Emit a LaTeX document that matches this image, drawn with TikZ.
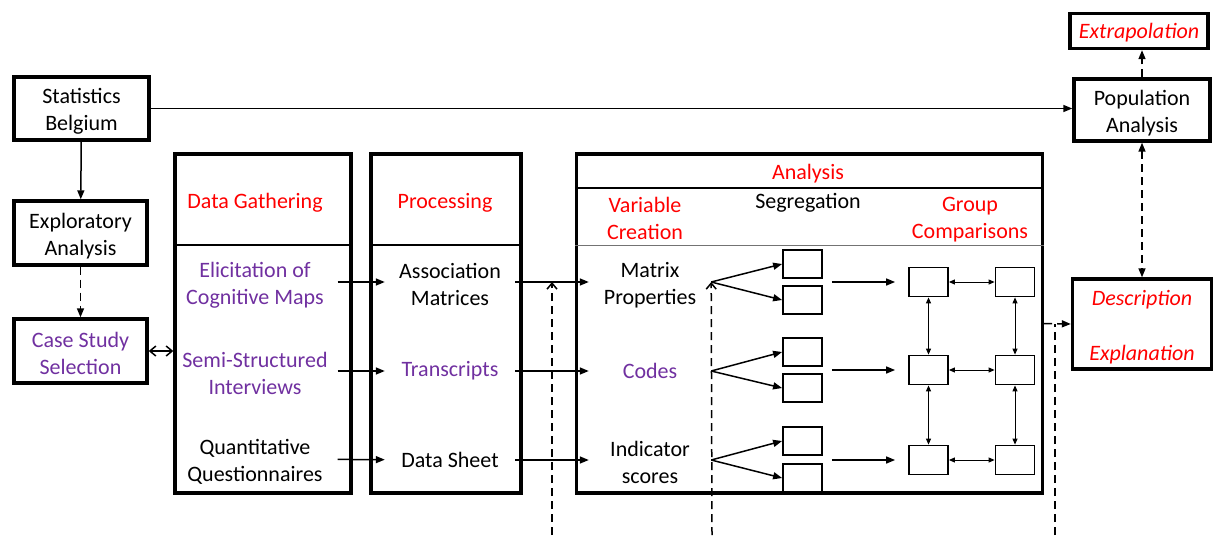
\documentclass[tikz,border=0pt]{standalone}
\usepackage{fontspec}
\setmainfont{Carlito}
\usetikzlibrary{arrows.meta,positioning}
\definecolor{ppurple}{RGB}{112,48,160}
\newcommand{\topgap}{\rule{0pt}{21pt}}

\begin{document}
\begin{tikzpicture}[x=1pt,y=-1pt,
  font=\fontsize{22}{27}\selectfont,
  box/.style={draw,line width=3.4pt,align=center,inner sep=0pt},
  item/.style={align=center,inner sep=0pt,minimum width=#1},
  small/.style={draw,line width=1.8pt,minimum width=39pt,minimum height=28pt,inner sep=0pt},
  arr/.style={-{Triangle[length=9pt,width=7pt]},line width=1.5pt},
  darr/.style={{Triangle[length=6pt,width=5pt]}-{Triangle[length=6pt,width=5pt]},line width=1pt},
  dashline/.style={dash pattern=on 8pt off 5pt},
  barb/.style={-{Straight Barb[length=6pt,width=10pt]},line width=1.5pt}
]
\useasboundingbox (0,0) rectangle (1214,535);

% left column
\node[box,minimum width=135pt,minimum height=63pt] (stat) at (81.5,108.5) {\topgap Statistics\\Belgium};
\node[box,minimum width=133pt,minimum height=64pt] (expl) at (80.5,233) {\topgap Exploratory\\Analysis};
\node[box,minimum width=133pt,minimum height=64pt,text=ppurple] (case) at (80.5,351) {\topgap Case Study\\Selection};

% main stages
\node[box,minimum width=176pt,minimum height=339pt] (gath) at (263,323.5) {};
\node[box,minimum width=150pt,minimum height=339pt] (proc) at (446,323.5) {};
\node[box,minimum width=466pt,minimum height=339pt] (anal) at (809.5,323.5) {};
\coordinate (hl) at (0,188);
\coordinate (dl) at (0,245);
\draw[line width=1.2pt] (gath.west |- dl) -- (gath.east |- dl);
\draw[line width=1.2pt] (proc.west |- dl) -- (proc.east |- dl);
\draw[line width=1.2pt] (anal.west |- hl) -- (anal.east |- hl);
\draw[line width=1pt,black!55] (anal.west |- dl) -- (anal.east |- dl);

% right column
\node[box,minimum width=136pt,minimum height=62pt] (pop) at (1142,110) {\topgap Population\\Analysis};
\node[box,minimum width=138pt,minimum height=35pt,text=red] (extra) at (1139,31) {\rule{0pt}{19pt}\textit{Extrapolation}};
\node[box,minimum width=139pt,minimum height=90pt,text=red] (desc) at (1142,324) {\topgap\textit{Description}\\[28pt]\textit{Explanation}};

% headers
\node[text=red] (gathh) at (255,203) {Data Gathering};
\node[text=red] (proch) at (445,203) {Processing};
\node[text=red] (analh) at (808,174) {Analysis};
\node[item=0pt,text=red] (varh) at (645,216) {\topgap Variable\\Creation};
\node (segh) at (808,203) {Segregation};
\node[item=0pt,text=red] (grph) at (970,216) {\topgap Group\\Comparisons};

% items
\node[item=165pt,text=ppurple] (elic) at (255,282) {\topgap Elicitation of\\Cognitive Maps};
\node[item=165pt,text=ppurple] (semi) at (255,371) {\topgap Semi-Structured\\Interviews};
\node[item=165pt] (quant) at (255,459) {\topgap Quantitative\\Questionnaires};
\node[item=130pt] (assoc) at (450,282) {\topgap Association\\Matrices};
\node[item=130pt,text=ppurple] (trans) at (450,371) {Transcripts};
\node[item=130pt] (sheet) at (450,460) {Data Sheet};
\node[item=122pt] (matrix) at (650,282) {\topgap Matrix\\Properties};
\node[item=122pt,text=ppurple] (codes) at (650,371) {Codes};
\node[item=122pt] (indic) at (650,460) {\topgap Indicator\\scores};

\draw[arr] (elic) -- (assoc);
\draw[arr] (semi) -- (trans);
\draw[arr] (quant) -- (sheet);
\draw[arr] (assoc) -- (matrix);
\draw[arr] (trans) -- (codes);
\draw[arr] (sheet) -- (indic);

% segregation and group comparisons
\foreach \r/\y/\ya/\yb/\v in {1/282/264/300/matrix,2/370/352/388/codes,3/460/441/478/indic} {
  \node[small] (s\r a) at (802.5,\ya) {};
  \node[small] (s\r b) at (802.5,\yb) {};
  \node[small,minimum height=29pt] (g\r a) at (928.5,\y) {};
  \node[small,minimum height=29pt] (g\r b) at (1015,\y) {};
  \draw[arr] (\v.east) -- (s\r a.west);
  \draw[arr] (\v.east) -- (s\r b.west);
  \draw[arr,shorten <=9pt,shorten >=13pt] (s\r a.east |- g\r a) -- (g\r a);
  \draw[darr] (g\r a) -- (g\r b);
}
\draw[darr] (g1a) -- (g2a);
\draw[darr] (g2a) -- (g3a);
\draw[darr] (g1b) -- (g2b);
\draw[darr] (g2b) -- (g3b);

% links
\draw[arr] (stat) -- (expl);
\draw[arr,dashline] (expl) -- (case);
\draw[barb,{Straight Barb[length=6pt,width=10pt]}-{Straight Barb[length=6pt,width=10pt]}] (case.east) -- (case.east -| gath.west);
\draw[arr] (stat.east) -- (stat.east -| pop.west);
\draw[arr,dashline] (pop.north) -- (pop.north |- extra.south);
\draw[arr,dashline,{Triangle[length=9pt,width=7pt]}-{Triangle[length=9pt,width=7pt]}] (pop) -- (desc);
\draw[arr,dashline] (anal.east) -- (desc.west);

% feedback lines
\coordinate (b1) at (552,535);
\coordinate (b2) at (712,535);
\coordinate (b3) at (1055,535);
\draw[barb,dashline] (b1) -- (b1 |- matrix);
\draw[barb,dashline] (b2) -- (matrix.east);
\draw[line width=1.5pt,dashline] (b3) -- (b3 |- desc.west);
\end{tikzpicture}
\end{document}
